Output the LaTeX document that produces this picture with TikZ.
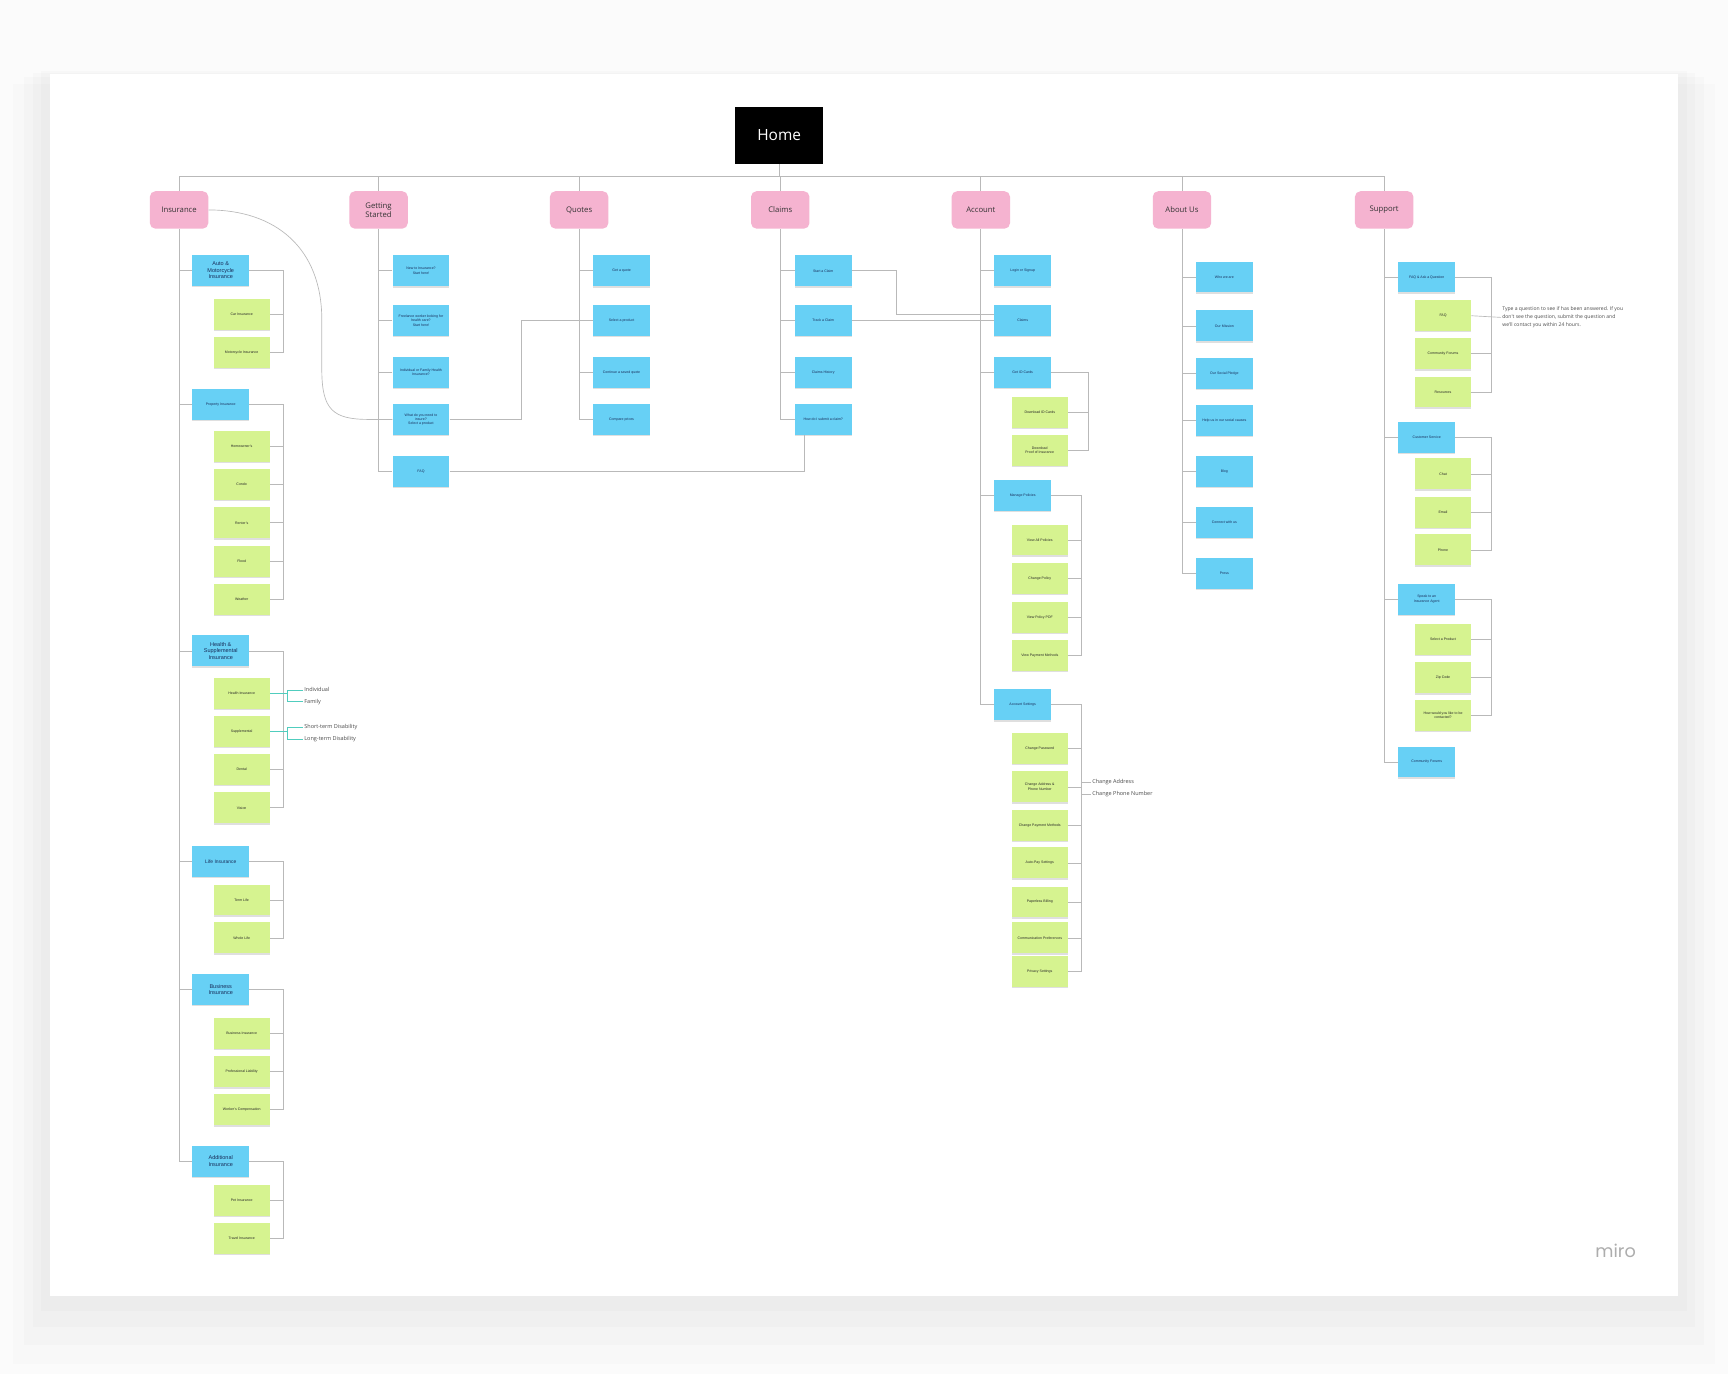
\documentclass[tikz,border=0pt]{standalone}
\usepackage{fontspec}
\setmainfont{Liberation Sans}
\newfontfamily\osans{Open Sans}
\newfontfamily\logofont{Poppins}
\usetikzlibrary{shadows}
\definecolor{hubpink}{RGB}{245,179,208}
\definecolor{secblue}{RGB}{103,208,245}
\definecolor{pggreen}{RGB}{214,243,144}
\definecolor{wire}{RGB}{185,185,185}
\definecolor{tealwire}{RGB}{80,205,190}
\definecolor{navy}{RGB}{25,45,90}

\begin{document}
\begin{tikzpicture}[x=1pt,y=-1pt,
hub/.style={fill=hubpink,rounded corners=5pt,minimum width=53pt,minimum height=34pt,inner sep=1pt,align=center,font=\osans\fontsize{7}{8.5}\selectfont,text=black!80},
sec/.style={fill=secblue,minimum width=51.5pt,minimum height=28pt,inner sep=1pt,align=center,font=\fontsize{3.2}{3.9}\selectfont,text=navy,drop shadow={shadow xshift=0pt,shadow yshift=-1.2pt,opacity=.25}},
pg/.style={fill=pggreen,minimum width=51pt,minimum height=28pt,inner sep=1pt,align=center,font=\fontsize{3.2}{3.9}\selectfont,text=black!85,drop shadow={shadow xshift=0pt,shadow yshift=-1.2pt,opacity=.25}},
hd/.style={font=\fontsize{5}{6}\selectfont},
ln/.style={draw=wire,line width=.6pt},
tl/.style={draw=tealwire,line width=.6pt},
lbl/.style={anchor=west,inner sep=1pt,font=\osans\fontsize{5}{6}\selectfont,text=black!70}]
\useasboundingbox (0,0) rectangle (1568,1247);
\fill[black!1.5] (0,0) rectangle (1568,1247);
\fill[black,opacity=.015] (37,64) rectangle (1531,1190);
\fill[black,opacity=.015] (30,66) rectangle (1538,1204);
\fill[black,opacity=.015] (22,70) rectangle (1546,1220);
\fill[black,opacity=.012] (12,76) rectangle (1556,1238);
\fill[white] (45,67) rectangle (1523,1176);
\node[fill=black,minimum width=80pt,minimum height=52pt,text=white,font=\osans\fontsize{14}{16}\selectfont] (home) at (707,123) {Home};
\node[hub] (ins) at (162.5,190.5) {Insurance};
\node[hub] (gs) at (343.5,190.5) {Getting\\Started};
\node[hub] (quo) at (525.5,190.5) {Quotes};
\node[hub] (clm) at (708,190.5) {Claims};
\node[hub] (acc) at (890,190.5) {Account};
\node[hub] (abt) at (1072.5,190.5) {About Us};
\node[hub] (sup) at (1256,190.5) {Support};
\coordinate (top) at (707,160.3);
\draw[ln] (home.south) -- (top);
\draw[ln] (ins.north) |- (top) -| (sup.north);
\draw[ln] (gs.north) -- (gs.north |- top); \draw[ln] (quo.north) -- (quo.north |- top);
\draw[ln] (clm.north) -- (clm.north |- top); \draw[ln] (acc.north) -- (acc.north |- top);
\draw[ln] (abt.north) -- (abt.north |- top);

\node[sec,hd] (auto) at (200.3,245.3) {Auto \&\\Motorcycle\\Insurance};
\node[pg] (car) at (219.3,285.4) {Car Insurance};
\node[pg] (moto) at (219.3,319.7) {Motorcycle Insurance};
\node[sec] (prop) at (200.3,367.2) {Property Insurance};
\node[pg] (homeo) at (219.3,405.3) {Homeowner's};
\node[pg] (condo) at (219.3,439.7) {Condo};
\node[pg] (rent) at (219.3,474.4) {Renter's};
\node[pg] (flood) at (219.3,509.3) {Flood};
\node[pg] (wthr) at (219.3,544.2) {Weather};
\node[sec,hd] (hlth) at (200.3,590.6) {Health \&\\Supplemental\\Insurance};
\node[pg] (hins) at (219.3,629) {Health Insurance};
\node[pg] (supp) at (219.3,663.8) {Supplemental};
\node[pg] (dent) at (219.3,698.4) {Dental};
\node[pg] (vis) at (219.3,733) {Vision};
\node[sec,font=\fontsize{4.5}{5.5}\selectfont] (life) at (200.3,781.6) {Life Insurance};
\node[pg] (term) at (219.3,816.7) {Term Life};
\node[pg] (whole) at (219.3,851) {Whole Life};
\node[sec,hd] (biz) at (200.3,898) {Business\\Insurance};
\node[pg] (bins) at (219.3,937.7) {Business Insurance};
\node[pg] (prof) at (219.3,972.5) {Professional Liability};
\node[pg] (work) at (219.3,1007) {Worker's Compensation};
\node[sec,hd] (addl) at (200.3,1053.7) {Additional\\Insurance};
\node[pg] (pet) at (219.3,1089.4) {Pet Insurance};
\node[pg] (trav) at (219.3,1124) {Travel Insurance};
\coordinate (bi) at (257,0);
\draw[ln] (ins.south) |- (addl.west);
\draw[ln] (auto.west) -- (auto.west -| ins.south); \draw[ln] (prop.west) -- (prop.west -| ins.south);
\draw[ln] (hlth.west) -- (hlth.west -| ins.south); \draw[ln] (life.west) -- (life.west -| ins.south);
\draw[ln] (biz.west) -- (biz.west -| ins.south);
\draw[ln] (auto.east) -- (auto.east -| bi) |- (moto.east); \draw[ln] (car.east) -- (car.east -| bi);
\draw[ln] (prop.east) -- (prop.east -| bi) |- (wthr.east);
\draw[ln] (homeo.east) -- (homeo.east -| bi); \draw[ln] (condo.east) -- (condo.east -| bi);
\draw[ln] (rent.east) -- (rent.east -| bi); \draw[ln] (flood.east) -- (flood.east -| bi);
\draw[ln] (hlth.east) -- (hlth.east -| bi) |- (vis.east);
\draw[ln] (hins.east) -- (hins.east -| bi); \draw[ln] (supp.east) -- (supp.east -| bi);
\draw[ln] (dent.east) -- (dent.east -| bi);
\draw[ln] (life.east) -- (life.east -| bi) |- (whole.east); \draw[ln] (term.east) -- (term.east -| bi);
\draw[ln] (biz.east) -- (biz.east -| bi) |- (work.east);
\draw[ln] (bins.east) -- (bins.east -| bi); \draw[ln] (prof.east) -- (prof.east -| bi);
\draw[ln] (addl.east) -- (addl.east -| bi) |- (trav.east); \draw[ln] (pet.east) -- (pet.east -| bi);
\node[lbl] (indiv) at (275,626) {Individual};
\node[lbl] (fam) at (275,636.7) {Family};
\node[lbl] (stdis) at (275,660) {Short-term Disability};
\node[lbl] (ltdis) at (275,670.5) {Long-term Disability};
\coordinate (ti) at (261,631); \coordinate (ts) at (261,665);
\draw[tl] (hins.east) -- (hins.east -| ti); \draw[tl] (indiv.west) -| (ti) |- (fam.west);
\draw[tl] (supp.east) -- (supp.east -| ts); \draw[tl] (stdis.west) -| (ts) |- (ltdis.west);

\node[sec] (gnew) at (382,245.7) {New to Insurance?\\Start here!};
\node[sec] (gfree) at (382,291) {Freelance worker looking for\\health care?\\Start here!};
\node[sec] (gind) at (382,338) {Individual or Family Health\\Insurance?};
\node[sec] (gwhat) at (382,380.6) {What do you need to\\insure?\\Select a product};
\node[sec] (gfaq) at (382,427.5) {FAQ};
\draw[ln] (gs.south) |- (gfaq.west);
\draw[ln] (gnew.west) -- (gnew.west -| gs.south); \draw[ln] (gfree.west) -- (gfree.west -| gs.south);
\draw[ln] (gind.west) -- (gind.west -| gs.south); \draw[ln] (gwhat.west) -- (gwhat.west -| gs.south);
\draw[ln] (ins.east) .. controls (250,190.5) and (292,225) .. (292,290) -- (292,335) .. controls (292,372) and (302,380.6) .. (335,380.6) -- (gwhat.west);

\node[sec] (qget) at (564,245.7) {Get a quote};
\node[sec] (qsel) at (564,291) {Select a product};
\node[sec] (qcont) at (564,338) {Continue a saved quote};
\node[sec] (qcmp) at (564,380.6) {Compare prices};
\draw[ln] (quo.south) |- (qcmp.west);
\draw[ln] (qget.west) -- (qget.west -| quo.south); \draw[ln] (qsel.west) -- (qsel.west -| quo.south);
\draw[ln] (qcont.west) -- (qcont.west -| quo.south);
\coordinate (jq) at (473,330);
\draw[ln] (gwhat.east) -| (jq) |- (qsel.west);

\node[sec] (cstart) at (747,245.7) {Start a Claim};
\node[sec] (ctrack) at (747,291) {Track a Claim};
\node[sec] (chist) at (747,338) {Claims History};
\node[sec] (csub) at (747,380.4) {How do I submit a claim?};
\draw[ln] (clm.south) |- (csub.west);
\draw[ln] (cstart.west) -- (cstart.west -| clm.south); \draw[ln] (ctrack.west) -- (ctrack.west -| clm.south);
\draw[ln] (chist.west) -- (chist.west -| clm.south);
\draw[ln] (gfaq.east) -| ([xshift=-17pt]csub.south);

\node[sec] (alog) at (928,245.7) {Login or Signup};
\node[sec] (aclm) at (928,291) {Claims};
\node[sec] (aid) at (928,338) {Get ID Cards};
\node[pg] (did) at (943.5,374) {Download ID Cards};
\node[pg] (dproof) at (943.5,408.8) {Download\\Proof of Insurance};
\node[sec] (apol) at (928,449.5) {Manage Policies};
\node[pg] (pall) at (943.5,490) {View All Policies};
\node[pg] (pchg) at (943.5,525) {Change Policy};
\node[pg] (ppdf) at (943.5,560) {View Policy PDF};
\node[pg] (ppay) at (943.5,595) {View Payment Methods};
\node[sec] (aset) at (928,639.5) {Account Settings};
\node[pg] (spw) at (943.5,679) {Change Password};
\node[pg] (sadd) at (943.5,714) {Change Address \&\\Phone Number};
\node[pg] (spay) at (943.5,749) {Change Payment Methods};
\node[pg] (sauto) at (943.5,783) {Auto-Pay Settings};
\node[pg] (spaper) at (943.5,818.5) {Paperless Billing};
\node[pg] (scomm) at (943.5,851) {Communication Preferences};
\node[pg] (spriv) at (943.5,881.5) {Privacy Settings};
\coordinate (bid) at (987.5,0); \coordinate (bpol) at (981,0);
\draw[ln] (acc.south) |- (aset.west);
\draw[ln] (alog.west) -- (alog.west -| acc.south); \draw[ln] (aclm.west) -- (aclm.west -| acc.south);
\draw[ln] (aid.west) -- (aid.west -| acc.south); \draw[ln] (apol.west) -- (apol.west -| acc.south);
\draw[ln] (aid.east) -- (aid.east -| bid) |- (dproof.east); \draw[ln] (did.east) -- (did.east -| bid);
\draw[ln] (apol.east) -- (apol.east -| bpol) |- (ppay.east);
\draw[ln] (pall.east) -- (pall.east -| bpol); \draw[ln] (pchg.east) -- (pchg.east -| bpol);
\draw[ln] (ppdf.east) -- (ppdf.east -| bpol);
\draw[ln] (aset.east) -- (aset.east -| bpol) |- (spriv.east);
\draw[ln] (spw.east) -- (spw.east -| bpol); \draw[ln] (sadd.east) -- (sadd.east -| bpol);
\draw[ln] (spay.east) -- (spay.east -| bpol); \draw[ln] (sauto.east) -- (sauto.east -| bpol);
\draw[ln] (spaper.east) -- (spaper.east -| bpol); \draw[ln] (scomm.east) -- (scomm.east -| bpol);
\node[lbl] (cadr) at (990,710) {Change Address};
\node[lbl] (cphn) at (990,720.5) {Change Phone Number};
\draw[ln] (cadr.west) -| (sadd.east -| bpol) |- (cphn.west);
\coordinate (jc) at (813,270);
\draw[ln] (cstart.east) -| (jc) |- ([yshift=5.5pt]aclm.west);
\draw[ln] (ctrack.east) -- (aclm.west);

\node[sec] (who) at (1111,251.4) {Who we are};
\node[sec] (miss) at (1111,295.7) {Our Mission};
\node[sec] (pledge) at (1111,339) {Our Social Pledge};
\node[sec] (help) at (1111,381.3) {Help us in our social causes};
\node[sec] (blog) at (1111,427.7) {Blog};
\node[sec] (conn) at (1111,474) {Connect with us};
\node[sec] (press) at (1111,520.4) {Press};
\draw[ln] (abt.south) |- (press.west);
\draw[ln] (who.west) -- (who.west -| abt.south); \draw[ln] (miss.west) -- (miss.west -| abt.south);
\draw[ln] (pledge.west) -- (pledge.west -| abt.south); \draw[ln] (help.west) -- (help.west -| abt.south);
\draw[ln] (blog.west) -- (blog.west -| abt.south); \draw[ln] (conn.west) -- (conn.west -| abt.south);

\node[sec] (sfaq) at (1294.6,251.4) {FAQ \& Ask a Question};
\node[pg] (faq) at (1309.4,286.5) {FAQ};
\node[pg] (cfor) at (1309.4,321) {Community Forums};
\node[pg] (res) at (1309.4,355.7) {Resources};
\node[sec] (scs) at (1294.6,396.6) {Customer Service};
\node[pg] (chat) at (1309.4,430) {Chat};
\node[pg] (mail) at (1309.4,465) {Email};
\node[pg] (phone) at (1309.4,499) {Phone};
\node[sec] (sag) at (1294.6,543.7) {Speak to an\\Insurance Agent};
\node[pg] (sprod) at (1309.4,580) {Select a Product};
\node[pg] (zip) at (1309.4,615) {Zip Code};
\node[pg] (cont) at (1309.4,649.3) {How would you like to be\\contacted?};
\node[sec] (sfor) at (1294.6,691.5) {Community Forums};
\coordinate (bsup) at (1353.5,0);
\draw[ln] (sup.south) |- (sfor.west);
\draw[ln] (sfaq.west) -- (sfaq.west -| sup.south); \draw[ln] (scs.west) -- (scs.west -| sup.south);
\draw[ln] (sag.west) -- (sag.west -| sup.south);
\draw[ln] (sfaq.east) -- (sfaq.east -| bsup) |- (res.east); \draw[ln] (cfor.east) -- (cfor.east -| bsup);
\draw[ln] (scs.east) -- (scs.east -| bsup) |- (phone.east);
\draw[ln] (chat.east) -- (chat.east -| bsup); \draw[ln] (mail.east) -- (mail.east -| bsup);
\draw[ln] (sag.east) -- (sag.east -| bsup) |- (cont.east);
\draw[ln] (sprod.east) -- (sprod.east -| bsup); \draw[ln] (zip.east) -- (zip.east -| bsup);
\node[lbl,align=left,font=\osans\fontsize{4.6}{7.3}\selectfont] (fnote) at (1362,288) {Type a question to see if has been answered. If you\\don't see the question, submit the question and\\we'll contact you within 24 hours.};
\draw[ln] (faq.east) -- (fnote.west);

\node[font=\logofont\fontsize{16}{16}\selectfont,text=black!32] (logo) at (1466,1135) {miro};
\end{tikzpicture}
\end{document}
